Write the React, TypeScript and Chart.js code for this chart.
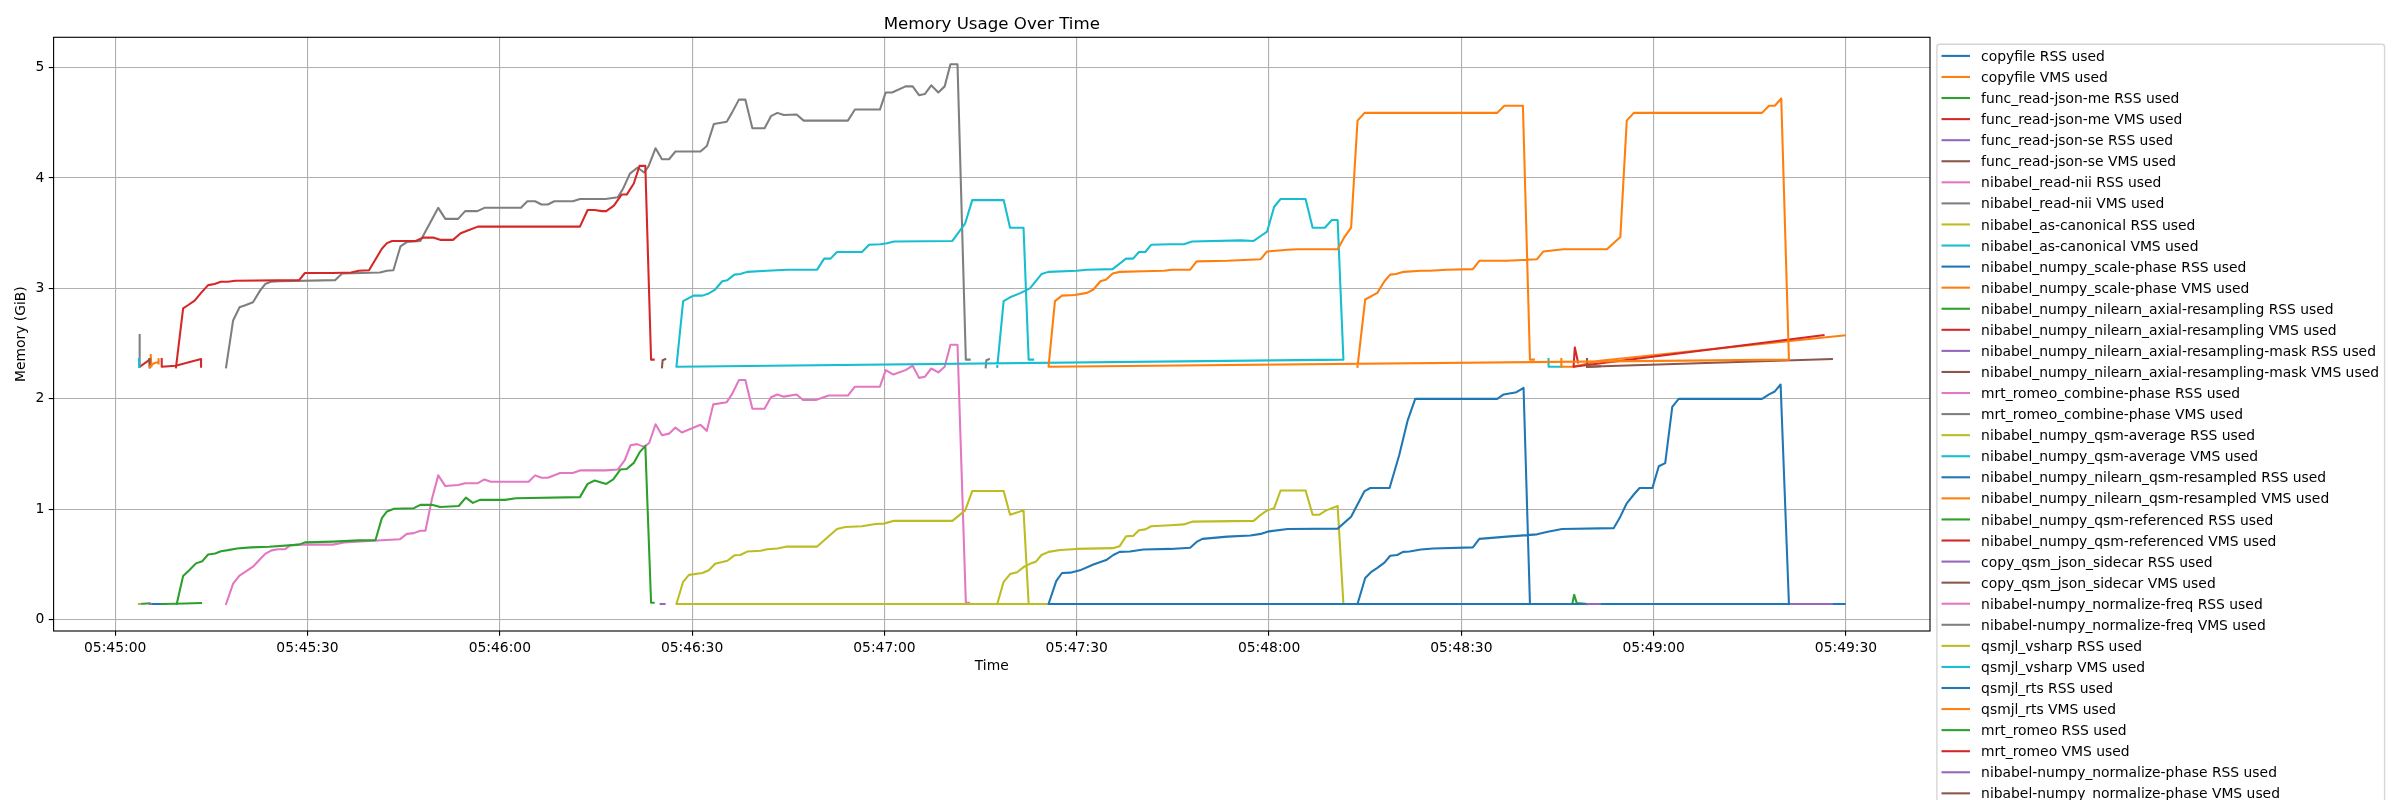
import React, { useEffect, useRef } from 'react';
import { Chart, registerables } from 'chart.js';

Chart.register(...registerables);

type Pt = [number, number]; // [seconds after TIME_ORIGIN, GiB]

const TITLE = 'Memory Usage Over Time';
const X_LABEL = 'Time';
const Y_LABEL = 'Memory (GiB)';
const TIME_ORIGIN = '05:45:00';
const X_TICK_LABELS = ['05:45:00', '05:45:30', '05:46:00', '05:46:30', '05:47:00', '05:47:30', '05:48:00', '05:48:30', '05:49:00', '05:49:30'];
const Y_TICKS = [0, 1, 2, 3, 4, 5];

const SERIES_LABELS = [
  'copyfile RSS used',
  'copyfile VMS used',
  'func_read-json-me RSS used',
  'func_read-json-me VMS used',
  'func_read-json-se RSS used',
  'func_read-json-se VMS used',
  'nibabel_read-nii RSS used',
  'nibabel_read-nii VMS used',
  'nibabel_as-canonical RSS used',
  'nibabel_as-canonical VMS used',
  'nibabel_numpy_scale-phase RSS used',
  'nibabel_numpy_scale-phase VMS used',
  'nibabel_numpy_nilearn_axial-resampling RSS used',
  'nibabel_numpy_nilearn_axial-resampling VMS used',
  'nibabel_numpy_nilearn_axial-resampling-mask RSS used',
  'nibabel_numpy_nilearn_axial-resampling-mask VMS used',
  'mrt_romeo_combine-phase RSS used',
  'mrt_romeo_combine-phase VMS used',
  'nibabel_numpy_qsm-average RSS used',
  'nibabel_numpy_qsm-average VMS used',
  'nibabel_numpy_nilearn_qsm-resampled RSS used',
  'nibabel_numpy_nilearn_qsm-resampled VMS used',
  'nibabel_numpy_qsm-referenced RSS used',
  'nibabel_numpy_qsm-referenced VMS used',
  'copy_qsm_json_sidecar RSS used',
  'copy_qsm_json_sidecar VMS used',
  'nibabel-numpy_normalize-freq RSS used',
  'nibabel-numpy_normalize-freq VMS used',
  'qsmjl_vsharp RSS used',
  'qsmjl_vsharp VMS used',
  'qsmjl_rts RSS used',
  'qsmjl_rts VMS used',
  'mrt_romeo RSS used',
  'mrt_romeo VMS used',
  'nibabel-numpy_normalize-phase RSS used',
  'nibabel-numpy_normalize-phase VMS used',
];

const copyfileRss: Pt[] = [[5.6, 0.142], [7.7, 0.142]];
const copyfileVms: Pt[] = [[5.45, 2.29], [5.55, 2.4], [5.65, 2.295]];
const funcReadJsonMeRss: Pt[] = [[3.82, 0.142], [5.4, 0.148]];
const funcReadJsonMeVms: Pt[] = [[3.82, 2.29], [5.38, 2.355]];
const funcReadJsonSeRss: Pt[] = [[5.38, 0.142], [5.6, 0.142]];
const funcReadJsonSeVms: Pt[] = [[5.3, 2.36], [5.38, 2.285]];
const readNiiRss: Pt[] = [[3.82, 0.142], [3.9, 0.142]];
const readNiiVms: Pt[] = [[3.82, 2.577], [3.82, 2.29]];
const asCanonicalRss: Pt[] = [[3.7, 0.142], [3.82, 0.142]];
const asCanonicalVms: Pt[] = [[3.7, 2.36], [3.75, 2.29], [3.82, 2.29]];
const scalePhaseRss: Pt[] = [[6.7, 0.142], [7.3, 0.142]];
const scalePhaseVms: Pt[] = [[5.38, 2.29], [6.0, 2.32], [6.74, 2.335], [6.74, 2.36], [6.8, 2.32]];
const axialResamplingRss: Pt[] = [[7.26, 0.142], [9.44, 0.145], [13.4, 0.151]];
const axialResamplingVms: Pt[] = [[7.26, 2.36], [7.26, 2.29], [9.44, 2.3], [13.4, 2.36], [13.4, 2.29]];
const axialMaskRss: Pt[] = [[85.1, 0.142], [85.7, 0.142]];
const axialMaskVms: Pt[] = [[85.3, 2.285], [85.4, 2.35], [85.8, 2.36]];
const combinePhaseRss: Pt[] = [
  [17.3, 0.142], [18.4, 0.326], [19.4, 0.4], [20.4, 0.437], [21.5, 0.48], [22.3, 0.53], [23.4, 0.596], [24.4, 0.628],
  [25.4, 0.638], [26.5, 0.638], [27.3, 0.673], [28.7, 0.68], [34.0, 0.68], [35.7, 0.7], [40.2, 0.715], [44.4, 0.728],
  [45.5, 0.777], [46.6, 0.784], [47.6, 0.805], [48.4, 0.805], [49.4, 1.09], [50.4, 1.307], [51.5, 1.21], [53.5, 1.22],
  [54.6, 1.235], [56.5, 1.235], [57.6, 1.27], [58.6, 1.25], [64.5, 1.25], [65.5, 1.307], [66.5, 1.286], [67.5, 1.286],
  [69.4, 1.328], [71.4, 1.328], [72.5, 1.352], [76.5, 1.352], [78.4, 1.36], [79.5, 1.446], [80.4, 1.58], [81.4, 1.59],
  [82.5, 1.565], [83.3, 1.6], [84.3, 1.77], [85.3, 1.67], [86.4, 1.685], [87.4, 1.74], [88.4, 1.695], [91.3, 1.765],
  [92.3, 1.71], [93.3, 1.95], [95.4, 1.97], [96.2, 2.04], [97.3, 2.17], [98.3, 2.17], [99.4, 1.91], [101.3, 1.91],
  [102.3, 2.015], [103.3, 2.04], [104.3, 2.02], [106.3, 2.04], [107.3, 1.99], [109.3, 1.99], [111.3, 2.03], [114.3, 2.03],
  [115.4, 2.11], [119.3, 2.11], [120.2, 2.26], [121.4, 2.22], [123.3, 2.26], [124.4, 2.3], [125.4, 2.19], [126.3, 2.2],
  [127.3, 2.275], [128.4, 2.24], [129.4, 2.29], [130.3, 2.49], [131.4, 2.49], [132.7, 0.153], [133.2, 0.153],
];
const combinePhaseVms: Pt[] = [
  [17.3, 2.285], [18.4, 2.71], [19.4, 2.83], [20.4, 2.85], [21.5, 2.875], [22.6, 2.98], [23.4, 3.04], [24.3, 3.06],
  [25.7, 3.065], [34.3, 3.075], [35.4, 3.135], [41.3, 3.145], [42.4, 3.16], [43.4, 3.165], [44.5, 3.38], [45.5, 3.42],
  [47.6, 3.43], [50.4, 3.73], [51.5, 3.63], [53.5, 3.63], [54.6, 3.7], [56.5, 3.7], [57.6, 3.73], [63.3, 3.73],
  [64.3, 3.79], [65.5, 3.79], [66.5, 3.76], [67.5, 3.76], [68.5, 3.79], [71.4, 3.79], [72.5, 3.81], [76.5, 3.81],
  [78.4, 3.825], [79.2, 3.9], [80.3, 4.04], [81.5, 4.095], [82.5, 4.05], [83.2, 4.105], [84.3, 4.27], [85.3, 4.17],
  [86.4, 4.17], [87.4, 4.24], [91.3, 4.24], [92.3, 4.29], [93.4, 4.49], [95.4, 4.51], [96.2, 4.59], [97.3, 4.71],
  [98.3, 4.71], [99.4, 4.45], [101.3, 4.45], [102.3, 4.56], [103.3, 4.59], [104.3, 4.57], [106.3, 4.575], [107.4, 4.52],
  [114.3, 4.52], [115.4, 4.62], [119.3, 4.62], [120.2, 4.775], [121.2, 4.775], [123.3, 4.83], [124.4, 4.83], [125.4, 4.75],
  [126.3, 4.76], [127.3, 4.84], [128.4, 4.775], [129.4, 4.83], [130.3, 5.03], [131.4, 5.03], [132.7, 2.355], [133.3, 2.355],
];
const qsmAverageRss: Pt[] = [[223.6, 0.142], [225.6, 0.142]];
const qsmAverageVms: Pt[] = [[223.6, 2.36], [223.6, 2.29], [225.6, 2.29]];
const qsmResampledRss: Pt[] = [[225.6, 0.142], [269.8, 0.142]];
const qsmResampledVms: Pt[] = [[225.6, 2.36], [225.6, 2.29], [227.5, 2.29], [231.6, 2.345], [269.8, 2.575]];
const qsmReferencedRss: Pt[] = [[227.3, 0.142], [227.6, 0.226], [228.0, 0.15], [229.6, 0.142]];
const qsmReferencedVms: Pt[] = [[228.2, 2.33], [227.7, 2.466], [227.5, 2.29], [266.5, 2.577]];
const sidecarRss: Pt[] = [[229.6, 0.142], [267.8, 0.142]];
const sidecarVms: Pt[] = [[229.6, 2.36], [229.6, 2.29], [267.8, 2.36]];
const normalizeFreqRss: Pt[] = [[135.6, 0.142], [136.2, 0.142]];
const normalizeFreqVms: Pt[] = [[135.8, 2.285], [135.9, 2.35], [136.3, 2.36]];
const vsharpRss: Pt[] = [
  [137.6, 0.142], [138.6, 0.343], [139.6, 0.413], [140.7, 0.43], [141.8, 0.48], [142.7, 0.506], [143.6, 0.524], [144.5, 0.586],
  [145.6, 0.614], [147.4, 0.631], [150.0, 0.641], [155.6, 0.648], [156.7, 0.666], [157.7, 0.756], [158.8, 0.759], [159.7, 0.81],
  [160.7, 0.818], [161.6, 0.846], [164.6, 0.856], [166.7, 0.863], [168.0, 0.888], [177.6, 0.895], [178.7, 0.95], [179.7, 0.99],
  [180.8, 1.01], [181.8, 1.17], [185.7, 1.17], [186.8, 0.95], [187.8, 0.95], [188.9, 0.99], [190.7, 1.03], [191.6, 0.142],
  [87.55, 0.142], [88.6, 0.343], [89.5, 0.406], [91.6, 0.423], [92.6, 0.447], [93.6, 0.506], [95.5, 0.534], [96.6, 0.583],
  [97.5, 0.586], [98.6, 0.617], [100.7, 0.624], [101.7, 0.638], [103.3, 0.645], [104.8, 0.662], [109.5, 0.662], [112.6, 0.822],
  [113.9, 0.839], [116.5, 0.846], [118.6, 0.867], [119.9, 0.87], [121.5, 0.895], [130.6, 0.895], [132.6, 0.99], [133.7, 1.165],
  [138.6, 1.165], [139.6, 0.95], [141.7, 0.99], [142.5, 0.142], [143.2, 0.142],
];
const vsharpVms: Pt[] = [
  [137.6, 2.29], [138.6, 2.885], [139.6, 2.92], [141.1, 2.955], [142.7, 3.0], [144.5, 3.13], [145.6, 3.15], [150.0, 3.16],
  [151.6, 3.17], [155.6, 3.175], [157.7, 3.27], [158.8, 3.27], [159.7, 3.33], [160.7, 3.33], [161.6, 3.395], [164.6, 3.4],
  [166.7, 3.4], [168.0, 3.425], [175.6, 3.435], [177.6, 3.43], [178.7, 3.475], [179.7, 3.515], [180.8, 3.74], [181.8, 3.81],
  [185.7, 3.81], [186.8, 3.55], [188.7, 3.55], [189.8, 3.62], [190.7, 3.62], [191.6, 2.355],
  [87.55, 2.29], [88.6, 2.885], [89.4, 2.91], [90.2, 2.935], [91.6, 2.935], [92.6, 2.955], [93.6, 2.99], [94.7, 3.065],
  [95.5, 3.075], [96.6, 3.125], [97.5, 3.13], [98.6, 3.15], [101.7, 3.16], [104.8, 3.17], [109.5, 3.17], [110.6, 3.27],
  [111.6, 3.27], [112.6, 3.33], [116.5, 3.33], [117.6, 3.395], [119.4, 3.4], [120.4, 3.41], [121.5, 3.425], [130.6, 3.43],
  [132.6, 3.59], [133.7, 3.8], [138.6, 3.8], [139.6, 3.55], [141.7, 3.55], [142.5, 2.355], [143.2, 2.355],
];
const rtsRss: Pt[] = [
  [193.8, 0.142], [195.0, 0.378], [195.9, 0.43], [196.9, 0.47], [198.0, 0.517], [198.9, 0.579], [200.0, 0.586], [200.9, 0.614],
  [201.9, 0.617], [203.7, 0.635], [205.6, 0.645], [211.8, 0.655], [212.8, 0.732], [217.1, 0.752], [221.8, 0.773], [223.3, 0.794],
  [225.7, 0.822], [233.75, 0.829], [234.8, 0.933], [235.8, 1.054], [236.9, 1.134], [237.8, 1.193], [239.8, 1.193], [240.8, 1.39],
  [241.8, 1.418], [242.9, 1.928], [243.9, 2.0], [256.9, 2.0], [258.0, 2.04], [258.9, 2.067], [259.8, 2.13], [261.1, 0.142],
  [145.6, 0.142], [146.8, 0.35], [147.7, 0.423], [149.0, 0.426], [150.5, 0.447], [152.6, 0.5], [154.6, 0.54], [155.7, 0.586],
  [156.7, 0.614], [158.3, 0.617], [160.4, 0.635], [164.6, 0.641], [167.7, 0.652], [168.7, 0.704], [169.6, 0.732], [173.5, 0.752],
  [177.1, 0.763], [178.7, 0.777], [180.0, 0.8], [182.9, 0.822], [190.7, 0.825], [192.8, 0.933], [194.9, 1.165], [195.8, 1.193],
  [198.8, 1.193], [200.3, 1.49], [201.6, 1.8], [202.8, 2.0], [215.6, 2.0], [216.6, 2.04], [218.6, 2.06], [219.7, 2.1],
  [220.7, 0.142], [221.1, 0.142],
];
const rtsVms: Pt[] = [
  [193.8, 2.29], [195.0, 2.9], [196.9, 2.96], [198.0, 3.065], [198.9, 3.125], [199.8, 3.13], [201.0, 3.15], [203.7, 3.16],
  [205.1, 3.16], [207.7, 3.17], [211.8, 3.175], [212.8, 3.25], [217.1, 3.25], [221.8, 3.265], [222.8, 3.335], [225.9, 3.355],
  [232.7, 3.355], [234.8, 3.465], [235.8, 4.52], [236.9, 4.59], [256.9, 4.59], [258.0, 4.655], [258.9, 4.655], [259.9, 4.72],
  [261.1, 2.355],
  [145.6, 2.29], [146.6, 2.885], [147.7, 2.935], [149.7, 2.94], [151.6, 2.96], [152.6, 2.99], [153.7, 3.065], [154.6, 3.08],
  [155.6, 3.135], [156.7, 3.15], [160.4, 3.155], [163.6, 3.16], [164.9, 3.17], [167.7, 3.17], [168.7, 3.245], [173.5, 3.25],
  [178.7, 3.265], [179.7, 3.335], [182.9, 3.35], [184.4, 3.355], [190.7, 3.355], [191.7, 3.46], [192.8, 3.55], [193.8, 4.52],
  [194.9, 4.59], [215.6, 4.59], [216.7, 4.655], [219.6, 4.655], [220.7, 2.355], [221.3, 2.355],
];
const romeoRss: Pt[] = [
  [9.6, 0.142], [10.6, 0.395], [11.6, 0.45], [12.6, 0.51], [13.6, 0.53], [14.5, 0.59], [15.6, 0.6], [16.5, 0.62],
  [17.6, 0.63], [19.0, 0.645], [21.2, 0.655], [24.0, 0.66], [28.7, 0.68], [29.6, 0.7], [34.0, 0.707], [38.0, 0.718],
  [40.6, 0.72], [41.6, 0.92], [42.4, 0.98], [43.5, 1.005], [46.6, 1.01], [47.6, 1.04], [49.4, 1.04], [50.7, 1.02],
  [53.6, 1.03], [54.7, 1.106], [55.8, 1.058], [56.9, 1.085], [60.8, 1.085], [62.5, 1.1], [72.5, 1.11], [73.7, 1.23],
  [74.8, 1.26], [76.6, 1.23], [77.7, 1.27], [78.8, 1.36], [79.8, 1.365], [80.9, 1.42], [81.8, 1.515], [82.7, 1.574],
  [83.6, 0.153], [84.0, 0.153],
];
const romeoVms: Pt[] = [
  [9.49, 2.285], [10.6, 2.82], [11.4, 2.85], [12.4, 2.89], [13.4, 2.96], [14.5, 3.03], [15.5, 3.04], [16.5, 3.06],
  [17.6, 3.06], [18.7, 3.07], [28.7, 3.075], [29.6, 3.14], [34.0, 3.14], [36.8, 3.145], [38.0, 3.16], [39.6, 3.165],
  [41.6, 3.36], [42.4, 3.41], [43.2, 3.43], [46.9, 3.43], [48.0, 3.46], [49.7, 3.46], [50.7, 3.44], [52.7, 3.44],
  [53.9, 3.5], [55.2, 3.53], [56.6, 3.56], [72.5, 3.56], [73.7, 3.71], [74.8, 3.71], [75.9, 3.7], [76.6, 3.7],
  [77.8, 3.75], [79.0, 3.85], [79.8, 3.85], [80.9, 3.95], [81.8, 4.11], [82.7, 4.11], [83.6, 2.355], [84.0, 2.355],
];
const normalizePhaseRss: Pt[] = [[229.6, 0.142], [231.6, 0.142]];
const normalizePhaseVms: Pt[] = [[229.6, 2.29], [231.6, 2.295]];

const SERIES_DATA: Pt[][] = [
  copyfileRss, copyfileVms, funcReadJsonMeRss, funcReadJsonMeVms, funcReadJsonSeRss, funcReadJsonSeVms,
  readNiiRss, readNiiVms, asCanonicalRss, asCanonicalVms, scalePhaseRss, scalePhaseVms,
  axialResamplingRss, axialResamplingVms, axialMaskRss, axialMaskVms, combinePhaseRss, combinePhaseVms,
  qsmAverageRss, qsmAverageVms, qsmResampledRss, qsmResampledVms, qsmReferencedRss, qsmReferencedVms,
  sidecarRss, sidecarVms, normalizeFreqRss, normalizeFreqVms, vsharpRss, vsharpVms,
  rtsRss, rtsVms, romeoRss, romeoVms, normalizePhaseRss, normalizePhaseVms,
];

const PALETTE = ['#1f77b4', '#ff7f0e', '#2ca02c', '#d62728', '#9467bd', '#8c564b', '#e377c2', '#7f7f7f', '#bcbd22', '#17becf'];
const FAMILY = '"DejaVu Sans", "Liberation Sans", sans-serif';
const FS = 13.89;
const LINE_W = 2.08;

const toSec = (s: string) => {
  const [h, m, sec] = s.split(':').map(Number);
  return h * 3600 + m * 60 + sec;
};
const ORIGIN_SEC = toSec(TIME_ORIGIN);
const X_TICK_VALUES = X_TICK_LABELS.map((l) => toSec(l) - ORIGIN_SEC);
const pad2 = (n: number) => String(n).padStart(2, '0');
const fmtTime = (v: number) => {
  const t = Math.round(ORIGIN_SEC + v);
  return `${pad2(Math.floor(t / 3600))}:${pad2(Math.floor((t % 3600) / 60))}:${pad2(t % 60)}`;
};

const overlayPlugin = {
  id: 'mplOverlay',
  afterDraw(chart: any) {
    const { ctx, chartArea: a } = chart;
    ctx.save();
    // spines
    ctx.strokeStyle = '#000';
    ctx.lineWidth = 1.11;
    ctx.strokeRect(a.left, a.top, a.right - a.left, a.bottom - a.top);
    // title
    ctx.fillStyle = '#000';
    ctx.font = `16.67px ${FAMILY}`;
    ctx.textAlign = 'center';
    ctx.textBaseline = 'alphabetic';
    ctx.fillText(TITLE, (a.left + a.right) / 2, a.top - 8.33);
    // legend
    ctx.font = `${FS}px ${FAMILY}`;
    const widths = SERIES_LABELS.map((l) => ctx.measureText(l).width);
    const maxW = Math.max(...widths);
    const boxL = a.right + 6.9;
    const boxT = a.top + 6.9;
    const handleL = boxL + 4.6;
    const handleR = handleL + 28.5;
    const textL = handleR + 11.1;
    const boxR = textL + maxW + 5.6;
    const rowH = 21.07;
    const firstC = boxT + 11.7;
    const boxB = firstC + rowH * (SERIES_LABELS.length - 1) + 12;
    const r = 2.8;
    ctx.beginPath();
    ctx.moveTo(boxL + r, boxT);
    ctx.lineTo(boxR - r, boxT);
    ctx.quadraticCurveTo(boxR, boxT, boxR, boxT + r);
    ctx.lineTo(boxR, boxB - r);
    ctx.quadraticCurveTo(boxR, boxB, boxR - r, boxB);
    ctx.lineTo(boxL + r, boxB);
    ctx.quadraticCurveTo(boxL, boxB, boxL, boxB - r);
    ctx.lineTo(boxL, boxT + r);
    ctx.quadraticCurveTo(boxL, boxT, boxL + r, boxT);
    ctx.closePath();
    ctx.fillStyle = '#ffffff';
    ctx.fill();
    ctx.strokeStyle = '#d6d6d6';
    ctx.lineWidth = 1.39;
    ctx.stroke();
    ctx.textAlign = 'left';
    ctx.textBaseline = 'alphabetic';
    SERIES_LABELS.forEach((label, i) => {
      const cy = firstC + rowH * i;
      ctx.strokeStyle = PALETTE[i % PALETTE.length];
      ctx.lineWidth = LINE_W;
      ctx.lineCap = 'butt';
      ctx.beginPath();
      ctx.moveTo(handleL, cy);
      ctx.lineTo(handleR, cy);
      ctx.stroke();
      ctx.fillStyle = '#000';
      ctx.fillText(label, textL, cy + 5.07);
    });
    ctx.restore();
  },
};

export default function App() {
  const ref = useRef<HTMLCanvasElement>(null);
  useEffect(() => {
    const canvas = ref.current;
    if (!canvas) return;
    const xs = SERIES_DATA.flat().map((p) => p[0]);
    const ys = SERIES_DATA.flat().map((p) => p[1]);
    const xMinD = Math.min(...xs);
    const xMaxD = Math.max(...xs);
    const yMinD = Math.min(...ys);
    const yMaxD = Math.max(...ys);
    const xm = (xMaxD - xMinD) * 0.05;
    const ym = (yMaxD - yMinD) * 0.05;
    const n = SERIES_DATA.length;
    const chart = new Chart(canvas, {
      type: 'line',
      data: {
        datasets: SERIES_DATA.map((pts, i) => ({
          label: SERIES_LABELS[i],
          data: pts.map(([x, y]) => ({ x, y })),
          borderColor: PALETTE[i % PALETTE.length],
          backgroundColor: PALETTE[i % PALETTE.length],
          borderWidth: LINE_W,
          pointRadius: 0,
          pointHoverRadius: 0,
          tension: 0,
          fill: false,
          borderJoinStyle: 'round',
          borderCapStyle: 'square',
          order: n - i,
        })),
      },
      options: {
        responsive: false,
        animation: false,
        devicePixelRatio: 1,
        events: [],
        layout: { padding: { left: 0, top: 37.3, right: 470, bottom: 125.7 } },
        plugins: { legend: { display: false }, title: { display: false }, tooltip: { enabled: false } },
        scales: {
          x: {
            type: 'linear',
            min: xMinD - xm,
            max: xMaxD + xm,
            afterBuildTicks: (s: any) => {
              s.ticks = X_TICK_VALUES.map((value) => ({ value }));
            },
            afterFit: (s: any) => {
              s.height = 43.3;
            },
            ticks: {
              autoSkip: false,
              maxRotation: 0,
              minRotation: 0,
              padding: 4.3,
              color: '#000',
              font: { size: FS, family: FAMILY },
              callback: (v: any) => fmtTime(Number(v)),
            },
            grid: { color: '#b0b0b0', lineWidth: 1.11, tickColor: '#000', tickLength: 4.86, tickWidth: 1.11 },
            border: { display: false },
            title: { display: true, text: X_LABEL, color: '#000', font: { size: FS, family: FAMILY }, padding: { top: 0, bottom: 0 } },
          },
          y: {
            type: 'linear',
            min: yMinD - ym,
            max: yMaxD + ym,
            afterBuildTicks: (s: any) => {
              s.ticks = Y_TICKS.map((value) => ({ value }));
            },
            afterFit: (s: any) => {
              s.width = 53.6;
            },
            ticks: {
              autoSkip: false,
              padding: 4.4,
              color: '#000',
              font: { size: FS, family: FAMILY },
              callback: (v: any) => String(v),
            },
            grid: { color: '#b0b0b0', lineWidth: 1.11, tickColor: '#000', tickLength: 4.86, tickWidth: 1.11 },
            border: { display: false },
            title: { display: true, text: Y_LABEL, color: '#000', font: { size: FS, family: FAMILY }, padding: { top: 13.1, bottom: 0 } },
          },
        },
      },
      plugins: [overlayPlugin],
    } as any);
    return () => chart.destroy();
  }, []);
  return (
    <div style={{ position: 'absolute', left: 0, top: 0, width: 2400, height: 800, overflow: 'hidden', background: '#fff' }}>
      <canvas ref={ref} width={2400} height={800} style={{ display: 'block', width: 2400, height: 800 }} />
    </div>
  );
}
